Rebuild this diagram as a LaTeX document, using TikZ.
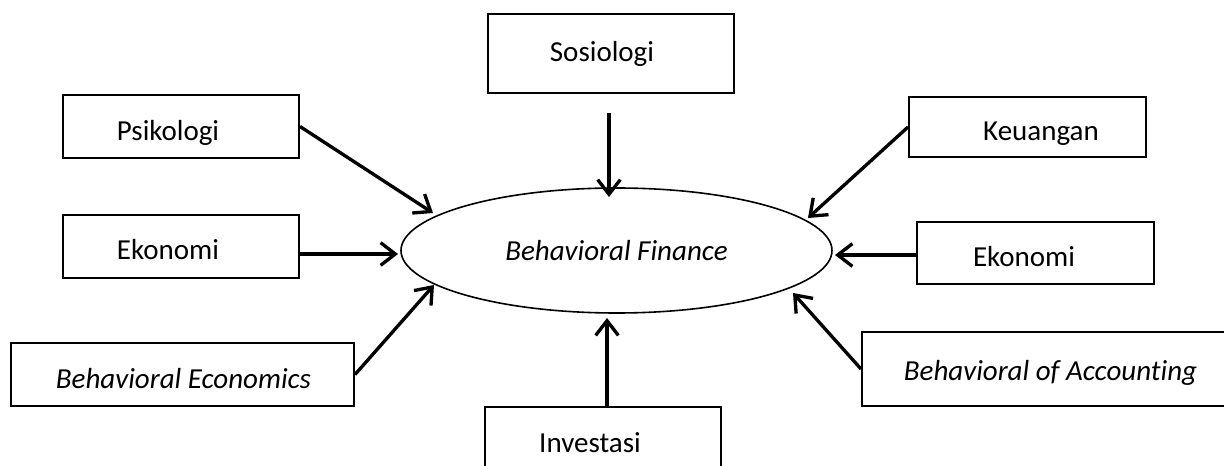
\documentclass[tikz,border=0pt]{standalone}
\usepackage{fontspec}
\setmainfont[Ligatures=NoCommon]{Carlito}
\usetikzlibrary{arrows.meta,shapes.geometric,calc}
\begin{document}
\begin{tikzpicture}[x=0.75pt,y=-0.75pt,
  box/.style={draw,line width=1.5pt,rectangle,inner sep=0pt},
  lbl/.style={anchor=base,inner sep=0pt,font=\fontsize{21.75}{26}\selectfont},
  arr/.style={line width=2.5pt,-{Straight Barb[length=11pt,width=17pt,line width=2.5pt]}}]
\useasboundingbox (0,0) rectangle (1224,466);
\clip (0,0) rectangle (1224,466);
% boxes
\node[box,minimum width=177pt,minimum height=47.25pt] (psi) at (181,126.5) {};
\node[box,minimum width=177pt,minimum height=47.25pt] (ekL) at (181,246.5) {};
\node[box,minimum width=184.5pt,minimum height=59.25pt] (soc) at (611,53.5) {};
\node[box,minimum width=177.75pt,minimum height=45pt] (keu) at (1027.5,127) {};
\node[box,minimum width=177.75pt,minimum height=46.5pt] (ekR) at (1035.5,253) {};
\node[box,minimum width=257.25pt,minimum height=47.25pt] (beE) at (182.5,374.5) {};
\node[box,minimum width=283.5pt,minimum height=55.5pt] (acc) at (1051,369) {};
\node[box,minimum width=177pt,minimum height=51pt] (inv) at (603,441) {};
% texts
\node[lbl] (psiT) at (168,141) {Psikologi};
\node[lbl] (ekLT) at (168,260) {Ekonomi};
\node[lbl] (socT) at (602,62) {Sosiologi};
\node[lbl] (keuT) at (1041,141) {Keuangan};
\node[lbl] (ekRT) at (1024,267) {Ekonomi};
\node[lbl] (beET) at (183.5,388) {\itshape Behavioral Economics};
\node[lbl] (accT) at (1050.5,381) {\itshape Behavioral of Accounting};
\node[lbl] (invT) at (590,452) {Investasi};
% ellipse
\node[ellipse,draw,line width=1.2pt,inner sep=0pt,minimum width=323.25pt,minimum height=93.75pt,
  font=\fontsize{21.75}{26}\selectfont\itshape] (bf) at (616.5,250.5) {Behavioral Finance};
% arrow tips
\coordinate (tPsi) at ($(bf.center)+(-183.5,-37.5)$);
\coordinate (tEkL) at ($(bf.center)+(-218.5,3.5)$);
\coordinate (tBeE) at ($(bf.center)+(-182.5,34.5)$);
\coordinate (tSoc) at ($(bf.center)+(-7.5,-53.5)$);
\coordinate (tKeu) at ($(bf.center)+(191.5,-32.5)$);
\coordinate (tEkR) at ($(bf.center)+(218.5,4.5)$);
\coordinate (tAcc) at ($(bf.center)+(176.5,42.5)$);
\coordinate (tInv) at ($(bf.center)+(-9.5,67.5)$);
% connectors
\draw[arr] (psi.east) -- (tPsi);
\draw[arr] (ekL.east |- tEkL) -- (tEkL);
\draw[arr] (beE.east) -- (tBeE);
\draw[arr,shorten <=14.25pt] (tSoc |- soc.south) -- (tSoc);
\draw[arr] (keu.west) -- (tKeu);
\draw[arr] (ekR.west |- tEkR) -- (tEkR);
\draw[arr] (acc.west) -- (tAcc);
\draw[arr] (tInv |- inv.north) -- (tInv);
\end{tikzpicture}
\end{document}
